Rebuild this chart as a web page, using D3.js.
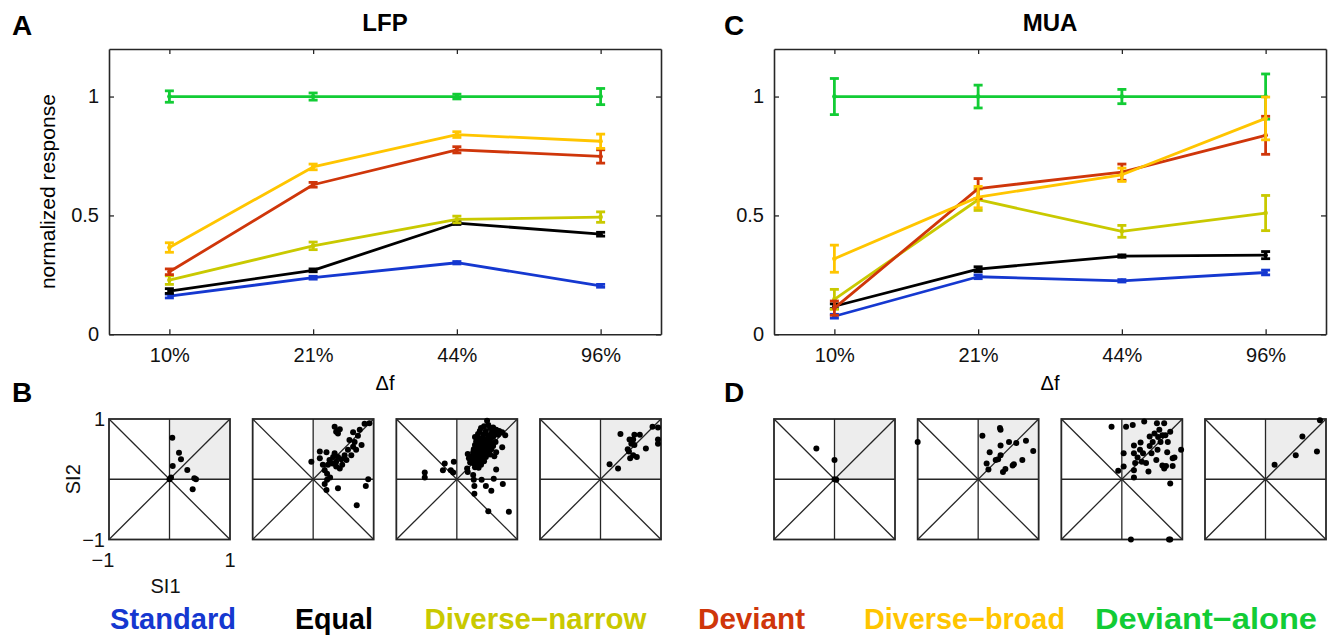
<!DOCTYPE html>
<html><head><meta charset="utf-8">
<script src="https://cdn.jsdelivr.net/npm/d3@7/dist/d3.min.js"></script>
<style>html,body{margin:0;padding:0;background:#fff;}svg{display:block;font-family:"Liberation Sans",Arial,sans-serif;}</style>
</head><body>
<svg id="fig" width="1331" height="635"></svg>
<script>
// ---------------- DATA ----------------
const xCats = ["10%", "21%", "44%", "96%"];
const yTicks = [0, 0.5, 1];
const yTickLabels = ["0", "0.5", "1"];
const seriesNames = ["Standard", "Equal", "Diverse\u2212narrow", "Deviant", "Diverse\u2212broad", "Deviant\u2212alone"];
const seriesColors = ["#1538d0", "#000000", "#c9c900", "#cf360a", "#ffc500", "#12cc35"];

// LFP means / SEM
const lfpStandard = [0.161, 0.238, 0.301, 0.204];
const lfpStandardErr = [0.008, 0.006, 0.005, 0.006];
const lfpEqual = [0.182, 0.269, 0.468, 0.421];
const lfpEqualErr = [0.010, 0.006, 0.006, 0.008];
const lfpNarrow = [0.228, 0.372, 0.483, 0.493];
const lfpNarrowErr = [0.018, 0.016, 0.014, 0.022];
const lfpDeviant = [0.263, 0.629, 0.776, 0.748];
const lfpDeviantErr = [0.012, 0.010, 0.013, 0.028];
const lfpBroad = [0.365, 0.704, 0.840, 0.812];
const lfpBroadErr = [0.020, 0.012, 0.012, 0.030];
const lfpAlone = [1.0, 1.0, 1.0, 1.0];
const lfpAloneErr = [0.024, 0.015, 0.010, 0.034];

// MUA means / SEM
const muaStandard = [0.076, 0.242, 0.225, 0.260];
const muaStandardErr = [0.008, 0.008, 0.005, 0.010];
const muaEqual = [0.118, 0.274, 0.329, 0.333];
const muaEqualErr = [0.010, 0.010, 0.005, 0.015];
const muaNarrow = [0.147, 0.566, 0.433, 0.510];
const muaNarrowErr = [0.042, 0.045, 0.025, 0.074];
const muaDeviant = [0.110, 0.613, 0.682, 0.837];
const muaDeviantErr = [0.030, 0.042, 0.034, 0.080];
const muaBroad = [0.318, 0.577, 0.671, 0.908];
const muaBroadErr = [0.057, 0.045, 0.028, 0.090];
const muaAlone = [1.0, 1.0, 1.0, 1.0];
const muaAloneErr = [0.076, 0.048, 0.030, 0.095];

// SI1 / SI2 scatter (LFP, one array per delta-f)
const lfpSI_10 = [[0.046,0.69],[0.157,0.44],[0.19,0.33],[0.053,0.22],[0.294,0.153],[0.41,0.016],[0.438,0.0],[0.383,-0.167],[0.025,0.03],[0.0,0.0]];
const lfpSI_21 = [[0.355,0.87],[0.38,0.79],[0.44,0.83],[0.41,0.76],[0.66,0.78],[0.77,0.82],[0.85,0.92],[0.93,0.93],[-0.03,0.29],[0.11,0.46],[0.22,0.45],[0.11,0.35],[0.27,0.32],[0.355,0.43],[0.41,0.37],[0.465,0.33],[0.52,0.40],[0.575,0.49],[0.66,0.54],[0.71,0.49],[0.80,0.57],[0.685,0.62],[0.60,0.65],[0.74,0.72],[0.245,0.24],[0.32,0.26],[0.38,0.21],[0.44,0.18],[0.19,0.15],[0.23,0.09],[0.28,0.03],[0.23,-0.01],[0.19,-0.08],[0.22,-0.18],[0.41,-0.15],[0.72,-0.43],[0.87,-0.11],[0.91,0.0],[0.16,0.24],[0.48,0.24],[0.55,0.32],[0.63,0.40],[0.33,0.37],[0.38,0.29]];
const lfpSI_44 = [[-0.53,0.11],[-0.53,0.03],[-0.2,0.26],[-0.23,0.15],[-0.1,0.15],[-0.05,0.29],[-0.06,0.11],[0.17,0.18],[0.18,0.12],[0.27,0.07],[0.28,-0.01],[0.29,-0.11],[0.41,-0.01],[0.48,-0.11],[0.57,-0.19],[0.61,0.01],[0.65,0.16],[0.76,-0.08],[0.29,-0.24],[0.52,-0.53],[0.86,-0.54],[0.75,0.53],
 [0.50,0.97],[0.52,0.90],[0.45,0.88],[0.40,0.85],[0.55,0.85],[0.60,0.86],[0.65,0.82],[0.70,0.80],[0.75,0.78],[0.38,0.80],[0.48,0.80],[0.58,0.78],[0.62,0.76],[0.35,0.75],[0.44,0.74],[0.52,0.73],[0.68,0.74],[0.80,0.73],
 [0.30,0.70],[0.36,0.68],[0.42,0.68],[0.48,0.66],[0.55,0.67],[0.60,0.70],[0.32,0.63],[0.38,0.62],[0.45,0.60],[0.52,0.62],[0.58,0.60],[0.64,0.62],[0.30,0.57],[0.35,0.55],[0.41,0.55],[0.47,0.54],[0.53,0.55],[0.60,0.55],[0.28,0.50],[0.33,0.49],[0.39,0.49],[0.45,0.48],[0.51,0.48],[0.57,0.50],
 [0.27,0.45],[0.32,0.43],[0.38,0.42],[0.44,0.42],[0.50,0.43],[0.55,0.41],[0.25,0.38],[0.30,0.37],[0.36,0.36],[0.42,0.36],[0.48,0.37],[0.26,0.32],[0.32,0.31],[0.38,0.30],[0.45,0.30],[0.22,0.28],[0.28,0.26],[0.34,0.25],[0.40,0.24],[0.30,0.20],[0.36,0.19],[0.20,0.35],[0.18,0.42],[0.62,0.38],[0.65,0.45]];
const lfpSI_96 = [[0.33,0.75],[0.48,0.66],[0.56,0.74],[0.65,0.74],[0.54,0.66],[0.51,0.59],[0.56,0.57],[0.47,0.46],[0.49,0.35],[0.6,0.37],[0.75,0.51],[0.86,0.87],[0.95,0.86],[0.95,0.66],[0.95,0.59],[0.15,0.25],[0.29,0.18],[0.54,0.40],[0.45,0.50]];

// SI1 / SI2 scatter (MUA)
const muaSI_10 = [[-0.30,0.51],[0.0,0.32],[0.03,-0.01],[0.0,0.0]];
const muaSI_21 = [[-1.0,0.62],[0.36,0.85],[0.37,0.82],[0.07,0.72],[0.19,0.45],[0.37,0.56],[0.51,0.62],[0.63,0.60],[0.79,0.64],[0.91,0.47],[0.73,0.32],[0.59,0.25],[0.57,0.23],[0.45,0.17],[0.41,0.12],[0.29,0.32],[0.33,0.33],[0.37,0.40],[0.14,0.26],[0.17,0.16]];
const muaSI_44 = [[-0.17,0.87],[0.07,0.87],[0.18,0.90],[0.37,0.96],[0.58,0.93],[0.7,0.93],[0.62,0.82],[0.8,0.79],[0.46,0.71],[0.6,0.70],[0.72,0.73],[0.31,0.61],[0.2,0.56],[0.51,0.62],[0.64,0.62],[0.76,0.62],[0.46,0.55],[0.59,0.49],[0.75,0.45],[0.98,0.49],[0.03,0.43],[0.2,0.43],[0.35,0.43],[0.49,0.43],[0.26,0.36],[0.22,0.27],[0.4,0.27],[0.03,0.21],[0.2,0.15],[0.44,0.13],[0.67,0.23],[0.73,0.22],[0.84,0.35],[0.87,0.36],[0.7,0.18],[0.84,0.22],[-0.06,0.14],[0.2,0.03],[0.8,-0.07],[0.15,-1.0],[0.78,-1.0],[0.8,-1.0],[0.67,0.73],[0.54,0.76],[0.3,0.49],[0.57,0.32],[0.33,0.29]];
const muaSI_96 = [[0.9,0.98],[0.61,0.71],[0.5,0.40],[0.85,0.46],[0.15,0.24]];

const siTicks = [-1, 1];

// ---------------- DRAW ----------------
const svg = d3.select("#fig");
svg.append("rect").attr("width", 1331).attr("height", 635).attr("fill", "#fff");
const FONT = '"Liberation Sans", Arial, sans-serif';
const axisColor = "#262626";

function lineChart(opts) {
  const { left, right, top, bottom, series, title, showYLabel } = opts;
  const x = d3.scaleLinear().domain([0.58, 4.42]).range([left, right]);
  const y = d3.scaleLinear().domain([0, 1.2]).range([bottom, top]);
  const g = svg.append("g");

  const xb = d3.axisBottom(x).tickValues([1, 2, 3, 4]).tickFormat((d, i) => xCats[i]).tickSizeInner(-5).tickSizeOuter(0).tickPadding(14);
  const xt = d3.axisTop(x).tickValues([1, 2, 3, 4]).tickFormat("").tickSizeInner(-5).tickSizeOuter(0);
  const yl = d3.axisLeft(y).tickValues(yTicks).tickFormat((d, i) => yTickLabels[i]).tickSizeInner(-5).tickSizeOuter(0).tickPadding(10);
  const yr = d3.axisRight(y).tickValues(yTicks).tickFormat("").tickSizeInner(-5).tickSizeOuter(0);
  const style = sel => {
    sel.selectAll("path").attr("stroke", axisColor).attr("stroke-width", 1.6);
    sel.selectAll("line").attr("stroke", axisColor).attr("stroke-width", 1.3);
    sel.selectAll("text").attr("font-family", FONT).attr("font-size", 20).attr("fill", "#111");
  };
  g.append("g").attr("transform", `translate(0,${bottom})`).call(xb).call(style);
  g.append("g").attr("transform", `translate(0,${top})`).call(xt).call(style);
  g.append("g").attr("transform", `translate(${left},0)`).call(yl).call(style);
  g.append("g").attr("transform", `translate(${right},0)`).call(yr).call(style);

  const order = [5, 0, 1, 2, 3, 4];
  const line = d3.line().x((d, i) => x(i + 1)).y(d => y(d));
  order.forEach(si => {
    const s = series[si];
    const col = seriesColors[si];
    const sg = g.append("g");
    sg.append("path").datum(s.mean).attr("d", line).attr("fill", "none").attr("stroke", col).attr("stroke-width", 2.8).attr("stroke-linejoin", "round");
    s.mean.forEach((m, i) => {
      const e = s.err[i];
      const cx = x(i + 1);
      sg.append("line").attr("x1", cx).attr("x2", cx).attr("y1", y(m - e)).attr("y2", y(m + e)).attr("stroke", col).attr("stroke-width", 2.8);
      [m - e, m + e].forEach(v => {
        sg.append("line").attr("x1", cx - 4.5).attr("x2", cx + 4.5).attr("y1", y(v)).attr("y2", y(v)).attr("stroke", col).attr("stroke-width", 2.8);
      });
      sg.append("circle").attr("cx", cx).attr("cy", y(m)).attr("r", 2.3).attr("fill", col);
    });
  });

  g.append("text").attr("x", (left + right) / 2).attr("y", 31).attr("text-anchor", "middle")
    .attr("font-family", FONT).attr("font-weight", "bold").attr("font-size", 24).text(title);
  g.append("text").attr("x", (left + right) / 2).attr("y", 390).attr("text-anchor", "middle")
    .attr("font-family", FONT).attr("font-size", 20).text("\u0394f");
  if (showYLabel) {
    g.append("text").attr("transform", `translate(55,${(top + bottom) / 2}) rotate(-90)`).attr("text-anchor", "middle")
      .attr("font-family", FONT).attr("font-size", 21).text("normalized response");
  }
}

lineChart({
  left: 109, right: 661, top: 49, bottom: 334.3, title: "LFP", showYLabel: true,
  series: [
    { mean: lfpStandard, err: lfpStandardErr }, { mean: lfpEqual, err: lfpEqualErr },
    { mean: lfpNarrow, err: lfpNarrowErr }, { mean: lfpDeviant, err: lfpDeviantErr },
    { mean: lfpBroad, err: lfpBroadErr }, { mean: lfpAlone, err: lfpAloneErr }]
});
lineChart({
  left: 774, right: 1326, top: 49, bottom: 334.3, title: "MUA", showYLabel: false,
  series: [
    { mean: muaStandard, err: muaStandardErr }, { mean: muaEqual, err: muaEqualErr },
    { mean: muaNarrow, err: muaNarrowErr }, { mean: muaDeviant, err: muaDeviantErr },
    { mean: muaBroad, err: muaBroadErr }, { mean: muaAlone, err: muaAloneErr }]
});

function scatterPanel(x0, pts, withLabels) {
  const size = 121, top = 419, bottom = 539.5;
  const sx = d3.scaleLinear().domain([-1, 1]).range([x0, x0 + size]);
  const sy = d3.scaleLinear().domain([-1, 1]).range([bottom, top]);
  const g = svg.append("g");
  g.append("rect").attr("x", sx(0)).attr("y", sy(1)).attr("width", sx(1) - sx(0)).attr("height", sy(0) - sy(1)).attr("fill", "#ededed");
  const lw = 1.3;
  [[-1, -1, 1, 1], [-1, 1, 1, -1], [0, -1, 0, 1], [-1, 0, 1, 0]].forEach(l => {
    g.append("line").attr("x1", sx(l[0])).attr("y1", sy(l[1])).attr("x2", sx(l[2])).attr("y2", sy(l[3])).attr("stroke", axisColor).attr("stroke-width", lw);
  });
  g.append("rect").attr("x", sx(-1)).attr("y", sy(1)).attr("width", sx(1) - sx(-1)).attr("height", sy(-1) - sy(1))
    .attr("fill", "none").attr("stroke", axisColor).attr("stroke-width", 1.8);
  g.selectAll("circle.d").data(pts).enter().append("circle").attr("cx", d => sx(d[0])).attr("cy", d => sy(d[1])).attr("r", 3).attr("fill", "#000");
  if (withLabels) {
    const t = (x, y, s, anchor) => g.append("text").attr("x", x).attr("y", y).attr("text-anchor", anchor)
      .attr("font-family", FONT).attr("font-size", 20).attr("fill", "#111").text(s);
    siTicks.forEach(v => {
      t(sx(-1) - 4, sy(v) + 7, v === 1 ? "1" : "\u22121", "end");
      t(sx(v) + (v === -1 ? -6 : 0), 567, v === 1 ? "1" : "\u22121", "middle");
    });
    t(sx(0) - 4, 593, "SI1", "middle");
    g.append("text").attr("transform", `translate(80,${sy(0)}) rotate(-90)`).attr("text-anchor", "middle")
      .attr("font-family", FONT).attr("font-size", 20).attr("fill", "#111").text("SI2");
  }
}
const pitch = (552 - 121) / 3;
[lfpSI_10, lfpSI_21, lfpSI_44, lfpSI_96].forEach((p, i) => scatterPanel(109 + i * pitch, p, i === 0));
[muaSI_10, muaSI_21, muaSI_44, muaSI_96].forEach((p, i) => scatterPanel(774 + i * pitch, p, false));

[["A", 12, 35], ["C", 724, 35], ["B", 12, 402], ["D", 724, 402]].forEach(d => {
  svg.append("text").attr("x", d[1]).attr("y", d[2]).attr("font-family", FONT).attr("font-weight", "bold").attr("font-size", 28).text(d[0]);
});

const legendX = [110, 295, 424.5, 698, 864, 1095];
const legendW = [126, 78, 222, 107, 201, 222];
seriesNames.forEach((n, i) => {
  svg.append("text").attr("x", legendX[i]).attr("y", 629).attr("font-family", FONT).attr("font-weight", "bold")
    .attr("font-size", 29).attr("fill", seriesColors[i]).attr("textLength", legendW[i]).attr("lengthAdjust", "spacingAndGlyphs").text(n);
});
</script>
</body></html>
